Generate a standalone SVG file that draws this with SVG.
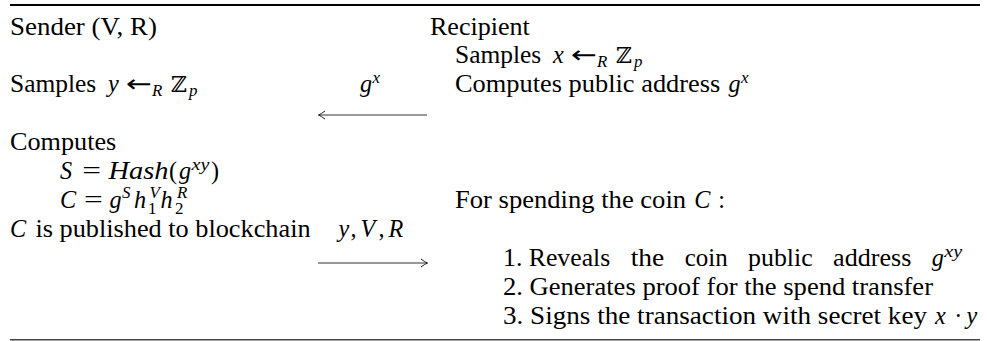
<svg xmlns="http://www.w3.org/2000/svg" width="987" height="341" viewBox="0 0 987 341">
<defs>
<style>
.t { font-family: "Liberation Serif", "Times New Roman", serif; font-size: 24.2px; fill: #000; }
.i { font-style: italic; }
.s { font-size: 16.9px; }
.bb { font-family: "DejaVu Serif", "DejaVu Sans", serif; font-size: 22px; fill: #000; }
.ar { font-family: "DejaVu Sans", sans-serif; font-size: 24px; fill: #000; }
.conn { stroke: #333; stroke-width: 1.1; fill: none; }
</style>
<marker id="ah" markerWidth="12" markerHeight="12" refX="0" refY="0" viewBox="-10 -6 12 12" orient="auto" markerUnits="userSpaceOnUse">
<path d="M-6.5,-4 Q-2.5,-1 0,0 Q-2.5,1 -6.5,4" fill="none" stroke="#222" stroke-width="1"/>
</marker>
</defs>
<rect width="987" height="341" fill="#fff"/>
<line x1="10" y1="5" x2="980" y2="5" stroke="#000" stroke-width="1.8"/>
<line x1="10" y1="339.8" x2="980" y2="339.8" stroke="#444" stroke-width="1.4"/>

<g id="sender-header">
<text class="t" x="10" y="34.5" textLength="147" lengthAdjust="spacingAndGlyphs">Sender (V, R)</text>
</g>
<g id="recipient-header">
<text class="t" x="430" y="34.5" textLength="99.8" lengthAdjust="spacingAndGlyphs">Recipient</text>
</g>
<g id="recipient-sample">
<text class="t" x="455" y="63.4" textLength="86.2" lengthAdjust="spacingAndGlyphs">Samples</text>
<text class="t i" x="553" y="63.4">x</text>
<text class="ar" x="571" y="63.4" textLength="26" lengthAdjust="spacingAndGlyphs">←</text>
<text class="t i s" x="597" y="67.4">R</text>
<text class="bb" x="616" y="63.4">ℤ</text>
<text class="t i s" x="634" y="67.4">p</text>
</g>
<g id="sender-sample">
<text class="t" x="10" y="92.3" textLength="86.2" lengthAdjust="spacingAndGlyphs">Samples</text>
<text class="t i" x="108" y="92.3">y</text>
<text class="ar" x="126" y="92.3" textLength="26" lengthAdjust="spacingAndGlyphs">←</text>
<text class="t i s" x="152" y="96.3">R</text>
<text class="bb" x="171" y="92.3">ℤ</text>
<text class="t i s" x="189" y="96.3">p</text>
</g>
<g id="recipient-address">
<text class="t" x="455" y="92.3" textLength="265.3" lengthAdjust="spacingAndGlyphs">Computes public address</text>
<text class="t i" x="728.4" y="92.3">g</text>
<text class="t i s" x="740.9" y="83.3">x</text>
</g>
<g id="sender-compute">
<text class="t" x="10" y="150.1" textLength="106.3" lengthAdjust="spacingAndGlyphs">Computes</text>
<text class="t i" x="60" y="179">S</text>
<text class="t" x="82.3" y="179" textLength="18.8" lengthAdjust="spacingAndGlyphs">=</text>
<text class="t i" x="108.5" y="179" textLength="60" lengthAdjust="spacingAndGlyphs">Hash</text>
<text class="t" x="169" y="179">(</text>
<text class="t i" x="179" y="179">g</text>
<text class="t i s" x="191.5" y="170" textLength="17.9" lengthAdjust="spacingAndGlyphs">xy</text>
<text class="t" x="211" y="179">)</text>
<text class="t i" x="60" y="207.9">C</text>
<text class="t" x="84" y="207.9" textLength="18.8" lengthAdjust="spacingAndGlyphs">=</text>
<text class="t i" x="109.5" y="207.9">g</text>
<text class="t i s" x="122" y="198.4">S</text>
<text class="t i" x="134.1" y="207.9">h</text>
<text class="t i s" x="149.5" y="198.4">V</text>
<text class="t s" x="148" y="214.4">1</text>
<text class="t i" x="160.5" y="207.9">h</text>
<text class="t i s" x="177" y="198.4">R</text>
<text class="t s" x="175" y="214.4">2</text>
</g>
<g id="sender-publish">
<text class="t i" x="10" y="236.8">C</text>
<text class="t" x="35.4" y="236.8" textLength="275.2" lengthAdjust="spacingAndGlyphs">is published to blockchain</text>
</g>
<g id="recipient-spend">
<text class="t" x="455" y="207.9" textLength="231.1" lengthAdjust="spacingAndGlyphs">For spending the coin</text>
<text class="t i" x="694.2" y="207.9">C</text>
<text class="t" x="718.2" y="207.9">:</text>
<text class="t" x="503" y="265.7" textLength="107.3" lengthAdjust="spacingAndGlyphs">1. Reveals</text>
<text class="t" x="630.7" y="265.7" textLength="33.6" lengthAdjust="spacingAndGlyphs">the</text>
<text class="t" x="684.7" y="265.7" textLength="43" lengthAdjust="spacingAndGlyphs">coin</text>
<text class="t" x="748.1" y="265.7" textLength="64.6" lengthAdjust="spacingAndGlyphs">public</text>
<text class="t" x="833.1" y="265.7" textLength="78.3" lengthAdjust="spacingAndGlyphs">address</text>
<text class="t i" x="931.8" y="265.7">g</text>
<text class="t i s" x="944.3" y="256.7" textLength="17.9" lengthAdjust="spacingAndGlyphs">xy</text>
<text class="t" x="503" y="294.6" textLength="430" lengthAdjust="spacingAndGlyphs">2. Generates proof for the spend transfer</text>
<text class="t" x="503" y="323.5" textLength="424" lengthAdjust="spacingAndGlyphs">3. Signs the transaction with secret key</text>
<text class="t i" x="935.1" y="323.5">x</text>
<text class="t" x="954.3" y="323.5">·</text>
<text class="t i" x="966.4" y="323.5">y</text>
</g>
<g id="connectors">
<path class="conn" d="M427,115 H318.5" marker-end="url(#ah)"/>
<text class="t i" x="360" y="92.3">g</text>
<text class="t i s" x="372.5" y="83.3">x</text>
<path class="conn" d="M318,263 H427.5" marker-end="url(#ah)"/>
<text class="t i" x="338.5" y="236.8">y</text>
<text class="t" x="350.5" y="236.8">,</text>
<text class="t i" x="360.5" y="236.8">V</text>
<text class="t" x="378.5" y="236.8">,</text>
<text class="t i" x="388.5" y="236.8">R</text>
</g>
</svg>
